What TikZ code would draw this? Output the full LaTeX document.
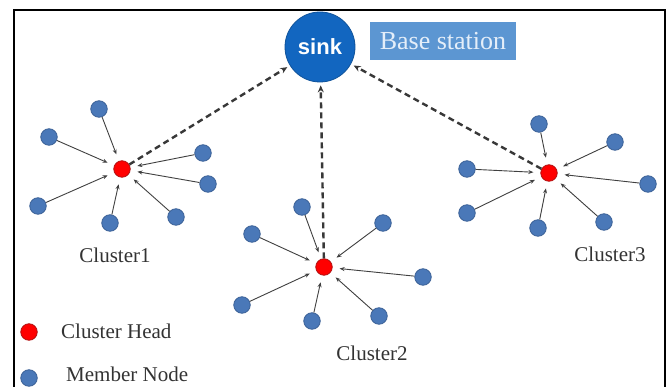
\documentclass[tikz,border=0pt]{standalone}
\usepackage{fontspec}
\setmainfont{Liberation Serif}
\newfontfamily\sinkfont{Liberation Sans}
\usetikzlibrary{arrows.meta}
\definecolor{memberblue}{HTML}{4A78B8}
\definecolor{memberedge}{HTML}{3A6096}
\definecolor{headedge}{HTML}{B01010}
\definecolor{sinkblue}{HTML}{1266C0}
\definecolor{basebox}{HTML}{5C96D2}
\definecolor{basetext}{HTML}{E4EEF9}
\definecolor{linkgray}{HTML}{404040}
\definecolor{dashgray}{HTML}{383838}
\tikzset{
  member/.style={circle, fill=memberblue, draw=memberedge, line width=0.8pt, minimum size=16.5pt, inner sep=0pt},
  head/.style={circle, fill=red, draw=headedge, line width=0.8pt, minimum size=16.5pt, inner sep=0pt},
  link/.style={-{Stealth[length=5pt,width=4pt]}, draw=linkgray, line width=0.9pt, shorten >=7pt},
  uplink/.style={-{Stealth[length=7pt,width=6pt]}, draw=dashgray, line width=2.4pt, dash pattern=on 6pt off 4pt, shorten >=3pt},
  lbl/.style={font=\fontsize{21}{25}\selectfont, text=black!80, inner sep=0pt}
}
\begin{document}
\begin{tikzpicture}[x=1pt,y=-1pt]
\useasboundingbox (0,0) rectangle (670,387);
\fill[white] (0,0) rectangle (670,387);
% frame
\draw[line width=2pt] (14,400) -- (14,10) -- (665,10) -- (665,400);
% sink and base station
\node[circle, fill=sinkblue, draw=sinkblue!80!black, line width=0.8pt, minimum size=70pt, inner sep=0pt,
      text=white, font=\sinkfont\bfseries\fontsize{22}{24}\selectfont] (sink) at (320,47) {sink};
\node[fill=basebox, text=basetext, minimum width=146pt, minimum height=38pt, inner sep=0pt,
      font=\fontsize{26}{30}\selectfont] (base) at (443,41) {Base station};
% cluster 1
\node[head] (h1) at (122,169) {};
\node[member] (a1) at (99,109) {};
\node[member] (a2) at (49,137) {};
\node[member] (a3) at (203,153) {};
\node[member] (a4) at (208,184) {};
\node[member] (a5) at (38,206) {};
\node[member] (a6) at (110,223) {};
\node[member] (a7) at (176,217) {};
\foreach \m in {a1,a2,a3,a4,a5,a6,a7} \draw[link] (\m) -- (h1);
\node[lbl] (c1) at (115,255) {Cluster1};
% cluster 2
\node[head] (h2) at (324,267) {};
\node[member] (b1) at (302,207) {};
\node[member] (b2) at (252,234) {};
\node[member] (b3) at (383,223) {};
\node[member] (b4) at (423,277) {};
\node[member] (b5) at (242,305) {};
\node[member] (b6) at (312,321) {};
\node[member] (b7) at (379,316) {};
\foreach \m in {b1,b2,b3,b4,b5,b6,b7} \draw[link] (\m) -- (h2);
\node[lbl] (c2) at (372,353) {Cluster2};
% cluster 3
\node[head] (h3) at (549,173) {};
\node[member] (d1) at (539,124) {};
\node[member] (d2) at (615,142) {};
\node[member] (d3) at (467,169) {};
\node[member] (d4) at (648,184) {};
\node[member] (d5) at (467,213) {};
\node[member] (d6) at (538,228) {};
\node[member] (d7) at (604,222) {};
\foreach \m in {d1,d2,d3,d4,d5,d6,d7} \draw[link] (\m) -- (h3);
\node[lbl] (c3) at (610,254) {Cluster3};
% uplinks
\draw[uplink] (h1) -- (sink);
\draw[uplink] (h2) -- (sink);
\draw[uplink] (h3) -- (sink);
% legend
\node[head] (lh) at (29,332) {};
\node[lbl, anchor=west] (lht) at (61,331) {Cluster Head};
\node[member] (lm) at (29,378) {};
\node[lbl, anchor=west] (lmt) at (66,374) {Member Node};
\end{tikzpicture}
\end{document}
